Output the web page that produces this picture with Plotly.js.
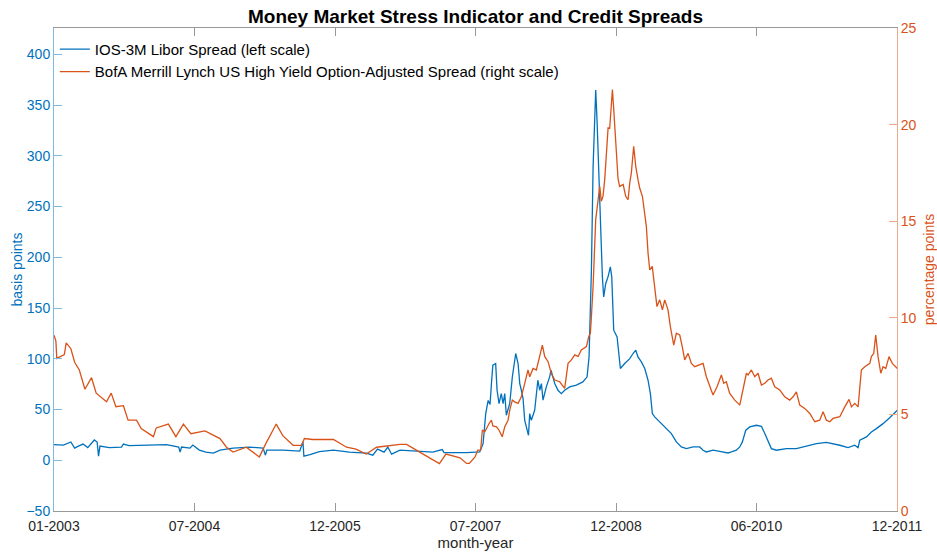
<!DOCTYPE html>
<html>
<head>
<meta charset="utf-8">
<script src="https://cdn.plot.ly/plotly-3.0.1.min.js"></script>
<style>html,body{margin:0;padding:0;background:#fff;}#chart{width:937px;height:555px;}</style>
</head>
<body>
<div id="chart"></div>
<script>
// ---- data (x in decimal years) ----
const liborYears = [2003.00,2003.10,2003.18,2003.22,2003.26,2003.31,2003.36,2003.40,2003.43,2003.46,2003.475,2003.49,2003.59,2003.72,2003.74,2003.80,2004.02,2004.20,2004.33,2004.345,2004.36,2004.45,2004.48,2004.55,2004.62,2004.70,2004.77,2004.91,2005.09,2005.23,2005.255,2005.27,2005.44,2005.62,2005.655,2005.665,2005.73,2005.83,2005.98,2006.15,2006.33,2006.40,2006.45,2006.52,2006.56,2006.60,2006.69,2006.86,2007.04,2007.14,2007.16,2007.40,2007.54,2007.576,2007.604,2007.63,2007.65,2007.665,2007.68,2007.71,2007.725,2007.746,2007.77,2007.789,2007.807,2007.824,2007.86,2007.888,2007.924,2007.949,2007.967,2007.984,2008.002,2008.02,2008.038,2008.06,2008.073,2008.09,2008.126,2008.16,2008.18,2008.198,2008.215,2008.25,2008.286,2008.30,2008.34,2008.375,2008.41,2008.446,2008.50,2008.57,2008.64,2008.685,2008.706,2008.731,2008.749,2008.766,2008.777,2008.791,2008.802,2008.82,2008.848,2008.862,2008.884,2008.909,2008.933,2008.948,2008.962,2008.969,2009.005,2009.026,2009.04,2009.086,2009.14,2009.175,2009.204,2009.228,2009.264,2009.30,2009.335,2009.36,2009.381,2009.406,2009.442,2009.477,2009.53,2009.584,2009.637,2009.69,2009.744,2009.815,2009.886,2009.922,2009.957,2010.028,2010.099,2010.188,2010.224,2010.277,2010.313,2010.341,2010.377,2010.42,2010.49,2010.544,2010.58,2010.615,2010.65,2010.704,2010.81,2010.917,2011.024,2011.13,2011.237,2011.308,2011.379,2011.468,2011.539,2011.575,2011.593,2011.664,2011.717,2011.77,2011.841,2011.912,2011.994];
const liborSpread = [15.4,15,18,12,14,16,12.5,17,20,18,4,14,12.5,13,16,14.5,15,15.5,13,8,13,12,15,10,8,7,10,12,13,12,5,10,10,9,18,4,5.5,8.5,10,8,7,5,11,8,13,6,10,9,8,10.5,7.5,7.5,8.2,16.4,46,59,55,75.6,93.7,95.3,69,55.9,65.7,55.9,65.7,44.4,55.9,82.2,105.2,95.3,75.6,69,60.8,39.4,32.9,24.6,46,39.4,49.3,78.9,69,75.6,59.2,72.3,82.2,88.7,75.6,69,65.7,69,72.3,74,77.2,82.2,101.9,187,289,345,364.8,335,302,253,180.8,161,174.2,181,190.6,180.8,154.5,128.2,121.6,101.9,90.4,95.3,100.2,105.2,108.5,101.9,96.9,90.4,78.9,65.7,46,42.7,39.4,36.1,31.2,26.3,18.1,13.1,11.5,13.1,13.1,9.9,8.2,9.9,8.8,7.2,8.2,9.9,13.1,18.1,29.6,32.9,34.5,33.5,26.3,18.1,11.5,9.9,11.5,11.5,13.8,16.4,17.7,16.4,14.8,12.5,14.8,12.5,19.7,23,27.9,31.2,36.1,42,49.3];

const hyYears = [2003.00,2003.02,2003.03,2003.11,2003.13,2003.18,2003.22,2003.27,2003.33,2003.40,2003.45,2003.56,2003.61,2003.66,2003.74,2003.79,2003.88,2003.93,2004.06,2004.09,2004.22,2004.30,2004.38,2004.46,2004.61,2004.77,2004.84,2004.91,2005.05,2005.19,2005.26,2005.37,2005.44,2005.55,2005.64,2005.67,2005.76,2005.98,2006.12,2006.22,2006.33,2006.44,2006.69,2006.76,2006.90,2007.04,2007.11,2007.18,2007.33,2007.40,2007.43,2007.49,2007.52,2007.55,2007.568,2007.594,2007.61,2007.64,2007.665,2007.68,2007.72,2007.746,2007.78,2007.807,2007.842,2007.86,2007.888,2007.913,2007.949,2007.984,2008.02,2008.055,2008.073,2008.109,2008.144,2008.18,2008.208,2008.233,2008.269,2008.304,2008.34,2008.393,2008.446,2008.482,2008.518,2008.553,2008.589,2008.624,2008.678,2008.703,2008.72,2008.731,2008.749,2008.777,2008.802,2008.82,2008.837,2008.855,2008.873,2008.891,2008.909,2008.926,2008.944,2008.955,2008.969,2008.99,2009.015,2009.032,2009.07,2009.097,2009.122,2009.14,2009.157,2009.182,2009.204,2009.228,2009.246,2009.275,2009.30,2009.317,2009.335,2009.353,2009.38,2009.406,2009.43,2009.46,2009.488,2009.513,2009.548,2009.573,2009.609,2009.637,2009.673,2009.70,2009.726,2009.762,2009.797,2009.833,2009.886,2009.922,2009.957,2009.993,2010.028,2010.071,2010.117,2010.142,2010.17,2010.206,2010.26,2010.313,2010.341,2010.366,2010.384,2010.402,2010.437,2010.473,2010.508,2010.544,2010.58,2010.615,2010.65,2010.686,2010.74,2010.793,2010.846,2010.882,2010.917,2010.953,2011.006,2011.06,2011.113,2011.166,2011.202,2011.237,2011.273,2011.308,2011.38,2011.433,2011.479,2011.504,2011.54,2011.575,2011.61,2011.646,2011.70,2011.717,2011.742,2011.763,2011.788,2011.817,2011.841,2011.87,2011.905,2011.94,2011.994];
const hySpread = [9.1,8.8,7.9,8.1,8.7,8.4,7.7,7.3,6.3,6.9,6.1,5.65,6.1,5.4,5.45,4.7,4.7,4.27,3.85,4.3,4.5,3.85,4.5,4.0,4.15,3.75,3.3,3.05,3.3,2.8,3.5,4.5,3.9,3.4,3.4,3.75,3.7,3.7,3.3,3.2,2.95,3.3,3.45,3.45,3.05,2.65,2.45,2.95,2.75,2.46,2.46,2.8,3.15,3.15,4.19,4.1,4.27,4.53,4.7,4.4,4.36,4.18,3.84,4.36,4.7,5.22,5.74,5.65,5.57,5.91,6.61,7.3,6.95,7.38,7.3,7.99,8.59,8.0,7.73,7.12,6.78,6.69,6.35,7.64,7.82,8.08,8.0,8.34,8.51,9.03,9.2,10.06,11.62,15.08,16.29,16.8,16.03,16.3,17.15,18.54,19.83,19.8,20.78,21.82,20.8,19.06,17.2,16.8,16.9,16.29,16.11,16.98,17.5,18.88,17.84,17.15,16.72,16.29,15.25,14.73,13.35,12.48,12.66,11.62,10.58,10.93,10.41,10.93,10.41,9.54,8.59,9.2,9.11,8.51,7.82,8.16,7.64,7.47,7.56,7.64,6.95,6.43,6.0,6.43,7.04,6.61,6.69,6.09,5.74,5.48,6.09,6.61,7.13,7.04,7.3,6.95,7.13,6.52,6.61,6.78,6.87,6.43,6.26,5.91,5.74,5.91,6.17,5.48,5.31,5.05,4.62,4.7,5.14,4.7,4.62,4.79,4.88,5.39,5.78,5.39,5.57,5.39,7.3,7.47,7.64,7.99,8.16,9.11,7.99,7.13,7.47,7.38,7.99,7.64,7.38];

const xTickLabels = ['01-2003','07-2004','12-2005','07-2007','12-2008','06-2010','12-2011'];
const leftTicks = [-50,0,50,100,150,200,250,300,350,400];
const rightTicks = [0,5,10,15,20,25];
const xRange = [2003.0, 2011.99];

const BLUE = '#0072BD', ORANGE = '#D95319';
const FONT = 'Liberation Sans, Arial, Helvetica, sans-serif';

const xTickVals = xTickLabels.map((_, i) => xRange[0] + i * (xRange[1] - xRange[0]) / (xTickLabels.length - 1));

const traces = [
  {x: liborYears, y: liborSpread, type: 'scatter', mode: 'lines',
   name: 'IOS-3M Libor Spread (left scale)', line: {color: BLUE, width: 1.3}, yaxis: 'y'},
  {x: hyYears, y: hySpread, type: 'scatter', mode: 'lines',
   name: 'BofA Merrill Lynch US High Yield Option-Adjusted Spread (right scale)', line: {color: ORANGE, width: 1.3}, yaxis: 'y2'}
];

const layout = {
  width: 937, height: 555,
  margin: {l: 54, r: 40, t: 28, b: 44, pad: 0},
  paper_bgcolor: '#ffffff', plot_bgcolor: '#ffffff',
  font: {family: FONT, size: 14, color: '#000'},
  showlegend: true,
  title: {text: '<b>Money Market Stress Indicator and Credit Spreads</b>', x: 0.5, xref: 'paper', xanchor: 'center', y: 0.970, yanchor: 'middle',
          font: {family: FONT, size: 19, color: '#000'}},
  legend: {x: 0.001, y: 0.99, xanchor: 'left', yanchor: 'top', bgcolor: 'rgba(0,0,0,0)', borderwidth: 0,
           font: {family: FONT, size: 15, color: '#000'}, itemwidth: 30, tracegroupgap: 0},
  xaxis: {range: xRange, tickvals: xTickVals, ticktext: xTickLabels, ticks: 'inside', ticklen: 8, tickcolor: '#999',
          showline: true, linecolor: '#999', linewidth: 1, mirror: 'ticks', showgrid: false, zeroline: false,
          ticklabelstandoff: 2,
          tickfont: {family: FONT, size: 14, color: '#262626'},
          title: {text: 'month-year', font: {family: FONT, size: 15, color: '#262626'}, standoff: 4}},
  yaxis: {range: [-50, 426], tickvals: leftTicks, ticks: 'inside', ticklen: 8, tickcolor: '#80b8de',
          showline: true, linecolor: '#80b8de', linewidth: 1, showgrid: false, zeroline: false,
          tickfont: {family: FONT, size: 14, color: BLUE},
          title: {text: 'basis points', font: {family: FONT, size: 14, color: BLUE}, standoff: 0}},
  yaxis2: {range: [0, 25], tickvals: rightTicks, overlaying: 'y', side: 'right', ticks: 'inside', ticklen: 8, tickcolor: '#eca98c',
           showline: true, linecolor: '#eca98c', linewidth: 1, showgrid: false, zeroline: false,
           tickfont: {family: FONT, size: 14, color: ORANGE},
           title: {text: 'percentage points', font: {family: FONT, size: 14, color: ORANGE}, standoff: 8}}
};

Plotly.newPlot('chart', traces, layout, {displayModeBar: false, staticPlot: true});
</script>
</body>
</html>
